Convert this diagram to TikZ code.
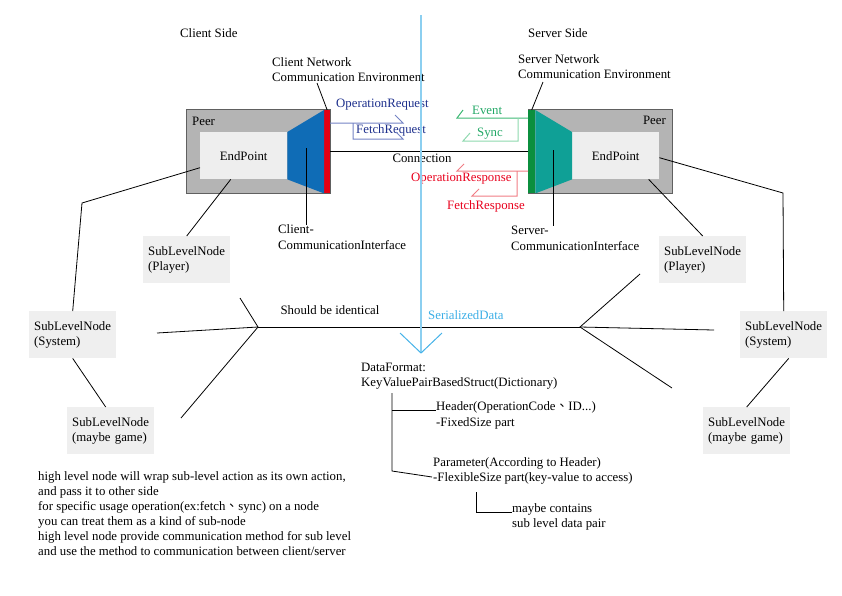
\documentclass[tikz,border=0pt]{standalone}
\usepackage{fontspec}
\setmainfont{Liberation Serif}
\newfontfamily\cjkfont{Noto Sans CJK TC}
\definecolor{cPeerFill}{HTML}{B4B4B4}
\definecolor{cPeerLine}{HTML}{606060}
\definecolor{cEpFill}{HTML}{EEEEEE}
\definecolor{cSubFill}{HTML}{EFEFEF}
\definecolor{cBlueTrap}{HTML}{0F6CB6}
\definecolor{cRedBar}{HTML}{E60012}
\definecolor{cTealTrap}{HTML}{0FA096}
\definecolor{cGreenBar}{HTML}{0B8F3E}
\definecolor{cReqText}{HTML}{1D2F8C}
\definecolor{cReqLine}{HTML}{7383C4}
\definecolor{cEvText}{HTML}{22A866}
\definecolor{cEvLine}{HTML}{3DB874}
\definecolor{cEvLineB}{HTML}{8ED8AE}
\definecolor{cResText}{HTML}{E8001C}
\definecolor{cResLine}{HTML}{F07C84}
\definecolor{cSkyLine}{HTML}{8CCFF0}
\definecolor{cSkyArrow}{HTML}{45B2E8}
\definecolor{cSkyText}{HTML}{3BAEE6}
\begin{document}
\begin{tikzpicture}[x=1pt,y=-1pt,
  every node/.style={font=\fontsize{12.8}{15.5}\selectfont, inner sep=0pt},
  lbl/.style={anchor=west, align=left},
  subnode/.style={fill=cSubFill, text width=77pt, inner xsep=5pt, inner ysep=0pt, minimum height=47pt, align=left, anchor=north west},
  epbox/.style={fill=cEpFill, minimum width=87pt, minimum height=47pt, anchor=north west},
  peerbox/.style={fill=cPeerFill, draw=cPeerLine, line width=1.2pt, minimum width=144pt, minimum height=84pt, anchor=north west},
  barbox/.style={minimum height=83pt, anchor=north west},
  conn/.style={draw=black, line width=0.8pt},
  reqlbl/.style={anchor=west, text=cReqText},
  reqln/.style={draw=cReqLine, line width=1pt},
  evlbl/.style={anchor=west, text=cEvText},
  evln/.style={draw=cEvLine, line width=1pt},
  evlnb/.style={draw=cEvLineB, line width=1pt},
  reslbl/.style={anchor=west, text=cResText},
  resln/.style={draw=cResLine, line width=1pt},
  skyln/.style={draw=cSkyLine, line width=1.6pt},
  skyarr/.style={draw=cSkyArrow, line width=1pt}
]
\useasboundingbox (0,0) rectangle (842,595);

% side titles
\node[lbl] (cside) at (180,33) {Client Side};
\node[lbl] (sside) at (528,33) {Server Side};

% client peer
\node[peerbox] (lpeer) at (186,109) {};
\node[anchor=west] (lpeerl) at (192,121) {Peer};
\node[epbox] (lep) at (200,132) {EndPoint};
\node[barbox, fill=cRedBar, minimum width=6pt] (rbar) at (324,110) {};
\fill[cBlueTrap] (lep.north east) -- (rbar.north west) -- (rbar.south west) -- (lep.south east) -- cycle;

% server peer
\node[peerbox] (rpeer) at (528,109) {};
\node[anchor=east] (rpeerl) at (666,120) {Peer};
\node[epbox] (rep) at (572,132) {EndPoint};
\node[barbox, fill=cGreenBar, minimum width=7pt] (gbar) at (528,110) {};
\fill[cTealTrap] (gbar.north east) -- (rep.north west) -- (rep.south west) -- (gbar.south east) -- cycle;

% connection
\draw[conn] (rbar.east) -- (gbar.west);
\node (connl) at (422,158) {Connection};

% environment labels
\node[lbl] (cne) at (272,69.5) {Client Network\\Communication Environment};
\coordinate (cneEnd) at (317,83);
\draw[conn] (cneEnd) -- (rbar.north);
\node[lbl] (sne) at (518,66.5) {Server Network\\Communication Environment};
\coordinate (sneEnd) at (543,82);
\draw[conn] (sneEnd) -- (gbar.north);

% communication interfaces
\node[lbl] (lci) at (278,237) {Client-\\CommunicationInterface};
\coordinate (lciTop) at (306,148);
\draw[conn] (lciTop) -- (lciTop |- lci.north);
\node[lbl] (rci) at (511,238.5) {Server-\\CommunicationInterface};
\coordinate (rciTop) at (553,150);
\draw[conn] (rciTop) -- (rciTop |- rci.north);

% requests
\node[reqlbl] (opreq) at (336,105) {OperationRequest};
\node[reqlbl] (fetreq) at (356,130) {FetchRequest};
\draw[reqln] (330,123) -- (403,123) -- (395,115);
\draw[reqln] (353,123) -- (353,139) -- (403,139) -- (396,132);

% events
\node[evlbl] (evt) at (472,110) {Event};
\node[evlbl] (syn) at (477,134) {Sync};
\draw[evln] (528,118) -- (457,118) -- (463,110);
\draw[evlnb] (518,118) -- (518,141) -- (463,141) -- (470,133);

% responses
\node[reslbl] (opres) at (411,179) {OperationResponse};
\node[reslbl] (fetres) at (447,206) {FetchResponse};
\draw[resln] (528,171) -- (457,171) -- (464,164);
\draw[resln] (517,171) -- (517,196) -- (472,196) -- (479,189);

% sub level nodes
\node[subnode] (lplay) at (143,236) {SubLevelNode\\(Player)};
\node[subnode] (lsys) at (29,311) {SubLevelNode\\(System)};
\node[subnode] (lgame) at (67,407) {SubLevelNode\\(maybe game)};
\node[subnode] (rplay) at (659,236) {SubLevelNode\\(Player)};
\node[subnode] (rsys) at (740,311) {SubLevelNode\\(System)};
\node[subnode] (rgame) at (703,407) {SubLevelNode\\(maybe game)};

\draw[conn] ([yshift=-12pt]lep.west) -- (82,203) -- (lsys.north);
\draw[conn] ([xshift=-13pt]lep.south) -- (lplay.north);
\draw[conn] (lsys.south) -- ([xshift=-5pt]lgame.north);
\draw[conn] ([yshift=-2pt]rep.east) -- (783,193) -- (rsys.north);
\draw[conn] ([xshift=33pt]rep.south) -- (rplay.north);
\draw[conn] ([xshift=5pt]rsys.south) -- (rgame.north);

% fans
\coordinate (lhub) at (258,327);
\coordinate (rhub) at (580,327);
\coordinate (lf1) at (240,298);
\coordinate (lf2) at (157,333);
\coordinate (lf3) at (181,418);
\coordinate (rf1) at (640,274);
\coordinate (rf2) at (714,330);
\coordinate (rf3) at (672,388);
\draw[conn] (lhub) -- (rhub);
\draw[conn] (lf1) -- (lhub) -- (lf3);
\draw[conn] (lhub) -- (lf2);
\draw[conn] (rf1) -- (rhub) -- (rf3);
\draw[conn] (rhub) -- (rf2);
\node (same) at (330,310) {Should be identical};
\node[anchor=west, text=cSkyText] (ser) at (428,315) {SerializedData};

% serialized data line
\coordinate (skytop) at (421,15);
\coordinate (skytip) at (421,353);
\coordinate (skyl) at (400,333);
\coordinate (skyr) at (442,333);
\draw[skyln] (skytop) -- (skytip);
\draw[skyarr] (skyl) -- (skytip) -- (skyr);

% data format tree
\node[lbl] (df) at (361,376) {DataFormat:\\KeyValuePairBasedStruct(Dictionary)};
\node[lbl] (hdr) at (436,415.5) {Header(OperationCode{\cjkfont 、}ID...)\\-FixedSize part};
\node[lbl] (par) at (433,471) {Parameter(According to Header)\\-FlexibleSize part(key-value to access)};
\node[lbl] (sub) at (512,517) {maybe contains\\sub level data pair};
\coordinate (t1) at (392,393);
\coordinate (t2) at (476,492);
\draw[conn] (t1) -- (t1 |- par.west) -- ([xshift=-1pt]par.west |- 0,477);
\draw[conn] (t1 |- 0,410) -- (hdr.west |- 0,410);
\draw[conn] (t2) -- (476,512) -- (sub.west |- 0,512);

% notes
\node[lbl, font=\fontsize{12.8}{15}\selectfont] (note) at (38,513.5) {high level node will wrap sub-level action as its own action,\\and pass it to other side\\for specific usage operation(ex:fetch{\cjkfont 、}sync) on a node\\you can treat them as a kind of sub-node\\high level node provide communication method for sub level\\and use the method to communication between client/server};
\end{tikzpicture}
\end{document}
